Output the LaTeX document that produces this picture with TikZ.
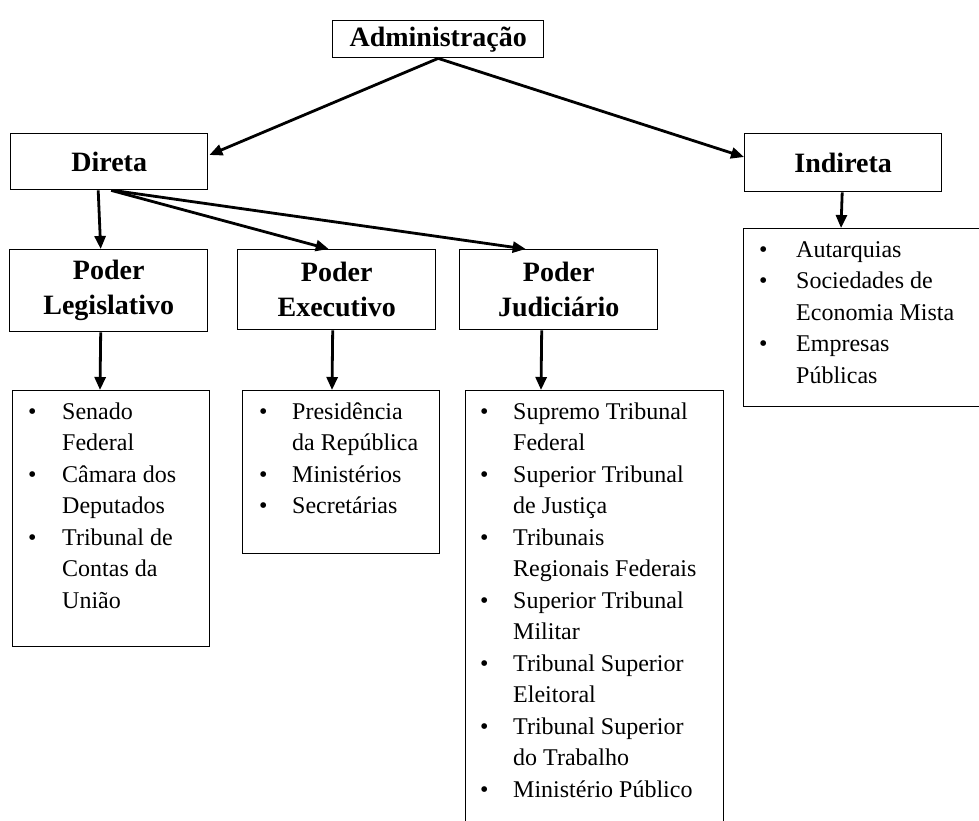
\documentclass[tikz,border=0pt]{standalone}
\usepackage{fontspec}
\setmainfont{Liberation Serif}
\usetikzlibrary{arrows.meta,calc}
\begin{document}
\begin{tikzpicture}[x=1pt,y=-1pt,
  hbox/.style={draw, line width=1.4pt, inner sep=0pt, anchor=north west, align=center,
    font=\fontsize{28}{35}\selectfont\bfseries},
  lbox/.style={draw, line width=1.4pt, inner sep=0pt, anchor=north west},
  ltext/.style={inner sep=0pt, anchor=north west, font=\fontsize{24}{31.5}\selectfont},
  conn/.style={line width=2.8pt, -{Triangle[length=13pt,width=11pt]}}
]
\useasboundingbox (0,0) rectangle (979,821);
\clip (0,0) rectangle (979,821);
\fill[white] (0,0) rectangle (979,821);

% header boxes
\node[hbox, minimum width=211pt, minimum height=37pt] (adm) at (332,20) {Administração};
\node[hbox, minimum width=197pt, minimum height=56pt] (dir) at (10,133) {Direta};
\node[hbox, minimum width=197pt, minimum height=58pt] (ind) at (744,133) {Indireta};
\node[hbox, minimum width=198pt, minimum height=82pt] (leg) at (9,249) {Poder\\Legislativo};
\node[hbox, minimum width=198pt, minimum height=80pt] (exe) at (237,249) {Poder\\Executivo};
\node[hbox, minimum width=198pt, minimum height=80pt] (jud) at (459,249) {Poder\\Judiciário};

% list boxes
\node[lbox, minimum width=197pt, minimum height=256pt] (legL) at (12,390) {};
\node[lbox, minimum width=197pt, minimum height=163pt] (exeL) at (242,390) {};
\node[lbox, minimum width=258pt, minimum height=450pt] (judL) at (465,390) {};
\node[lbox, minimum width=260pt, minimum height=178pt] (indL) at (743,228) {};

\node[ltext] (legT) at ($(legL.north west)+(16,7)$) {%
\begin{tabular}{@{}p{34pt}@{}l@{}}
\textbullet & Senado\\
 & Federal\\
\textbullet & Câmara dos\\
 & Deputados\\
\textbullet & Tribunal de\\
 & Contas da\\
 & União
\end{tabular}};
\node[ltext] (exeT) at ($(exeL.north west)+(17,7)$) {%
\begin{tabular}{@{}p{33pt}@{}l@{}}
\textbullet & Presidência\\
 & da República\\
\textbullet & Ministérios\\
\textbullet & Secretárias
\end{tabular}};
\node[ltext] (judT) at ($(judL.north west)+(15,7)$) {%
\begin{tabular}{@{}p{33pt}@{}l@{}}
\textbullet & Supremo Tribunal\\
 & Federal\\
\textbullet & Superior Tribunal\\
 & de Justiça\\
\textbullet & Tribunais\\
 & Regionais Federais\\
\textbullet & Superior Tribunal\\
 & Militar\\
\textbullet & Tribunal Superior\\
 & Eleitoral\\
\textbullet & Tribunal Superior\\
 & do Trabalho\\
\textbullet & Ministério Público
\end{tabular}};
\node[ltext] (indT) at ($(indL.north west)+(16,7)$) {%
\begin{tabular}{@{}p{37pt}@{}l@{}}
\textbullet & Autarquias\\
\textbullet & Sociedades de\\
 & Economia Mista\\
\textbullet & Empresas\\
 & Públicas
\end{tabular}};

% connectors
\draw[conn] (adm.south) -- ($(dir.north east)+(1,22)$);
\draw[conn] (adm.south) -- ($(ind.north west)+(0,24)$);
\draw[conn] ($(dir.south)+(-11,0)$) -- ($(leg.north)+(-8,0)$);
\draw[conn] ($(dir.south)+(2,0)$) -- ($(exe.north)+(-8,0)$);
\draw[conn] ($(dir.south)+(4,0)$) -- ($(jud.north)+(-33,0)$);
\draw[conn] ($(ind.south)+(-1,0)$) -- ($(indL.north west)+(98,0)$);
\draw[conn] ($(leg.south)+(-8,0)$) -- ($(legL.north west)+(88,0)$);
\draw[conn] ($(exe.south)+(-4,0)$) -- ($(exeL.north west)+(90,0)$);
\draw[conn] ($(jud.south)+(-17,0)$) -- ($(judL.north west)+(76,0)$);
\end{tikzpicture}
\end{document}
